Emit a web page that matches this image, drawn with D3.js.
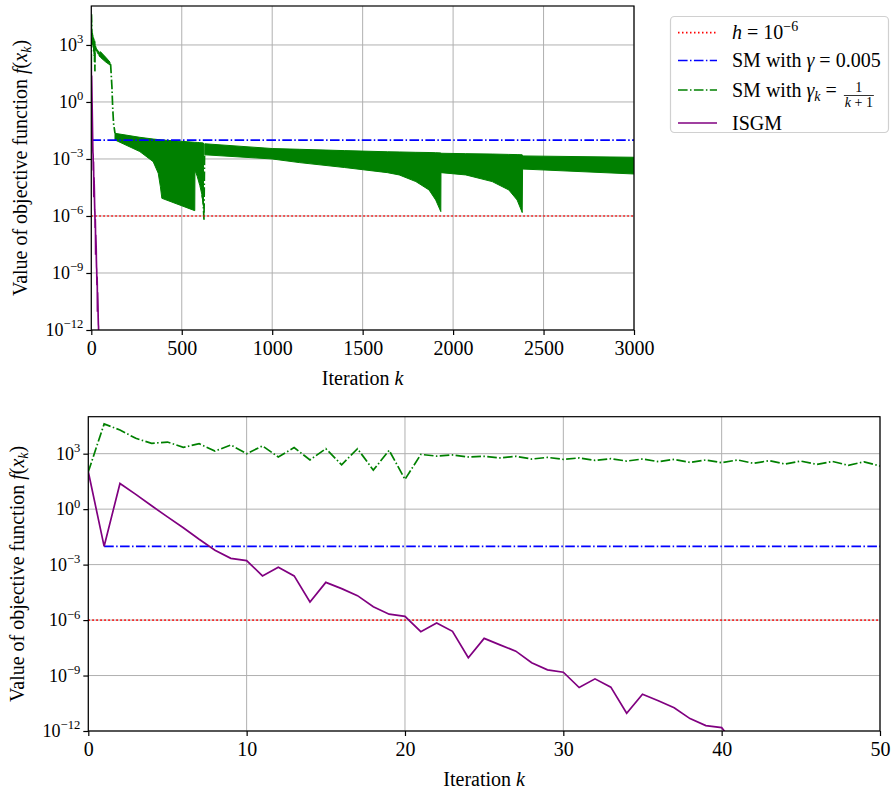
<!DOCTYPE html>
<html>
<head>
<meta charset="utf-8">
<script src="https://cdn.jsdelivr.net/npm/d3@7"></script>
<style>
  body { margin: 0; background: #fff; }
  svg text { font-family: "Liberation Serif", "Times New Roman", serif; fill: #000; }
</style>
</head>
<body>
<svg id="chart" width="896" height="791"></svg>
<script>
// ---- data (log10 of f(x_k)) ----
// SM with gamma_k = 1/(k+1), k = 0..50
const smDiminishingLog = [2.02, 4.61, 4.28, 3.83, 3.56, 3.63, 3.34, 3.54, 3.14, 3.47, 3.0,
  3.42, 2.82, 3.33, 2.66, 3.27, 2.40, 3.27, 2.11, 3.18, 1.61,
  2.96, 2.87, 2.93, 2.82, 2.86, 2.77, 2.86, 2.71, 2.80, 2.69,
  2.77, 2.64, 2.73, 2.60, 2.71, 2.57, 2.69, 2.53, 2.66, 2.51,
  2.66, 2.48, 2.62, 2.44, 2.60, 2.42, 2.58, 2.37, 2.56, 2.33];
// ISGM, k = 0..41
const isgmLog = [2.02, -2.01, 1.39, 0.80, 0.18, -0.42, -1.01, -1.63, -2.22, -2.66, -2.78,
  -3.61, -3.14, -3.61, -5.02, -3.96, -4.30, -4.68, -5.28, -5.68, -5.80,
  -6.63, -6.16, -6.61, -8.04, -6.99, -7.34, -7.68, -8.31, -8.69, -8.82,
  -9.65, -9.18, -9.63, -11.04, -10.01, -10.36, -10.74, -11.33, -11.71, -11.82, -12.9];
// SM with constant step: flat level from k = 1
const smConstLog = -2.01;
const thresholdLog = -6;

// dense oscillation of SM gamma_k over 3000 iterations: upper / lower envelope
const bandK  = [50, 80, 103, null, 131, 268, 342, 370, 382, 390, 572, 573, 585, 600, 612, 620, null,
  627, 1000, 1150, 1400, 1637, 1702, 1794, 1867, 1904, 1932, 1933, 2070, 2216, 2308, 2354, 2382, 2384, 3000];
const bandHi = [2.65, 2.35, 2.1, null, -1.65, -1.86, -1.95, -1.98, -1.99, -2.0, -2.12, -2.12, -2.13, -2.14, -2.15, -2.16, null,
  -2.2, -2.45, -2.49, -2.56, -2.62, -2.63, -2.65, -2.66, -2.67, -2.68, -2.70, -2.72, -2.74, -2.76, -2.77, -2.78, -2.84, -2.91];
const bandLo = [2.35, 2.1, 1.95, null, -2.0, -2.61, -3.14, -3.75, -4.46, -5.07, -5.72, -3.6, -3.9, -4.4, -4.9, -5.5, null,
  -2.78, -3.0, -3.19, -3.45, -3.72, -3.84, -4.19, -4.63, -5.16, -5.77, -3.72, -3.84, -4.19, -4.63, -5.16, -5.82, -3.53, -3.79];
// dash-dot transitions between the dense parts
const dropK = [103, 107, 114, 118, 123, 131];
const dropLog = [2.0, 1.95, 0.8, -0.25, -1.12, -1.65];
const tailK = [612, 618, 623, 626];
const tailLog = [-4.9, -5.16, -6.2, -2.78];

const yTickVals = [1e-12, 1e-9, 1e-6, 1e-3, 1, 1e3];
const yTickExp = ['\u221212', '\u22129', '\u22126', '\u22123', '0', '3'];
const topXTicks = [0, 500, 1000, 1500, 2000, 2500, 3000];
const botXTicks = [0, 10, 20, 30, 40, 50];

const colors = { h: '#ff0000', sm: '#0000ff', smk: '#008000', isgm: '#800080' };
const dashDot = '9.6,2.4,1.5,2.4';
const dotted = '1.5,2.5';
const lw = 1.7;

const svg = d3.select('#chart');

function rich(g, x, y, parts, size, anchor) {
  const t = g.append('text').attr('x', x).attr('y', y)
    .attr('font-size', size).attr('text-anchor', anchor || 'start');
  let shift = 0;
  parts.forEach(p => {
    const ts = t.append('tspan').text(p.t);
    const target = p.sup ? -size * 0.42 : p.sub ? size * 0.22 : 0;
    if (target !== shift) { ts.attr('dy', target - shift); shift = target; }
    if (p.sup || p.sub) ts.attr('font-size', size * 0.7);
    if (p.it) ts.attr('font-style', 'italic');
  });
  return t;
}

function panel(cfg) {
  const x = d3.scaleLinear().domain([0, cfg.xMax]).range([cfg.left, cfg.right]);
  const y = d3.scaleLog().domain([1e-12, cfg.yMax]).range([cfg.bottom, cfg.top]);
  const g = svg.append('g');

  // grid
  g.append('g').selectAll('line').data(cfg.xTicks).join('line')
    .attr('x1', d => x(d)).attr('x2', d => x(d))
    .attr('y1', cfg.top).attr('y2', cfg.bottom)
    .attr('stroke', '#b0b0b0').attr('stroke-width', 1);
  g.append('g').selectAll('line').data(yTickVals).join('line')
    .attr('x1', cfg.left).attr('x2', cfg.right)
    .attr('y1', d => y(d)).attr('y2', d => y(d))
    .attr('stroke', '#b0b0b0').attr('stroke-width', 1);

  const clipId = 'clip' + cfg.id;
  svg.append('clipPath').attr('id', clipId).append('rect')
    .attr('x', cfg.left).attr('y', cfg.top)
    .attr('width', cfg.right - cfg.left).attr('height', cfg.bottom - cfg.top);
  const plot = g.append('g').attr('clip-path', `url(#${clipId})`);

  const line = d3.line().x(d => x(d[0])).y(d => y(Math.pow(10, d[1])));

  // SM with gamma_k
  if (cfg.band) {
    const bandData = bandK.map((k, i) => ({ k, hi: bandHi[i], lo: bandLo[i] }));
    const area = d3.area().defined(d => d.k != null)
      .x(d => x(d.k))
      .y0(d => y(Math.pow(10, d.lo)))
      .y1(d => y(Math.pow(10, d.hi)));
    plot.append('path').attr('d', area(bandData))
      .attr('fill', colors.smk).attr('stroke', colors.smk).attr('stroke-width', 1);
    plot.append('path').attr('d', line(dropK.map((k, i) => [k, dropLog[i]])))
      .attr('fill', 'none').attr('stroke', colors.smk).attr('stroke-width', lw)
      .attr('stroke-dasharray', dashDot);
    plot.append('path').attr('d', line(tailK.map((k, i) => [k, tailLog[i]])))
      .attr('fill', 'none').attr('stroke', colors.smk).attr('stroke-width', lw)
      .attr('stroke-dasharray', dashDot);
  }
  plot.append('path').attr('d', line(smDiminishingLog.map((v, k) => [k, v])))
    .attr('fill', 'none').attr('stroke', colors.smk).attr('stroke-width', lw)
    .attr('stroke-dasharray', dashDot);

  // threshold h
  plot.append('path').attr('d', line([[0, thresholdLog], [cfg.xMax, thresholdLog]]))
    .attr('fill', 'none').attr('stroke', colors.h).attr('stroke-width', lw)
    .attr('stroke-dasharray', dotted);
  // SM constant step
  plot.append('path').attr('d', line([[1, smConstLog], [cfg.xMax, smConstLog]]))
    .attr('fill', 'none').attr('stroke', colors.sm).attr('stroke-width', lw)
    .attr('stroke-dasharray', dashDot);
  // ISGM
  plot.append('path').attr('d', line(isgmLog.map((v, k) => [k, v])))
    .attr('fill', 'none').attr('stroke', colors.isgm).attr('stroke-width', lw);

  // axes
  const xAxis = g.append('g').attr('transform', `translate(0,${cfg.bottom})`)
    .call(d3.axisBottom(x).tickValues(cfg.xTicks).tickSize(5).tickPadding(5).tickFormat(d3.format('d')));
  xAxis.select('.domain').remove();
  xAxis.selectAll('line').attr('stroke', '#000').attr('stroke-width', 1.2);
  xAxis.selectAll('text').attr('font-size', 20).attr('font-family', null).attr('dy', '0.75em');
  const yAxis = g.append('g').attr('transform', `translate(${cfg.left},0)`)
    .call(d3.axisLeft(y).tickValues(yTickVals).tickSize(5).tickFormat(''));
  yAxis.select('.domain').remove();
  yAxis.selectAll('line').attr('stroke', '#000').attr('stroke-width', 1.2);
  yTickVals.forEach((v, i) => {
    rich(g, cfg.left - 8, y(v) + 6, [{ t: '10' }, { t: yTickExp[i], sup: true }], 18, 'end');
  });

  g.append('rect').attr('x', cfg.left).attr('y', cfg.top)
    .attr('width', cfg.right - cfg.left).attr('height', cfg.bottom - cfg.top)
    .attr('fill', 'none').attr('stroke', '#000').attr('stroke-width', 1.2);

  // labels
  rich(g, (cfg.left + cfg.right) / 2, cfg.bottom + 55,
    [{ t: 'Iteration ' }, { t: 'k', it: true }], 20, 'middle');
  const yl = g.append('g')
    .attr('transform', `translate(${cfg.ylabelX},${(cfg.top + cfg.bottom) / 2}) rotate(-90)`);
  rich(yl, 0, 0, [{ t: 'Value of objective function ' }, { t: 'f', it: true }, { t: '(' },
    { t: 'x', it: true }, { t: 'k', it: true, sub: true }, { t: ')' }], 20, 'middle');
}

panel({ id: 'top', left: 91.3, right: 634, top: 6, bottom: 330, xMax: 3000,
  yMax: Math.pow(10, 5.05), xTicks: topXTicks, band: true, ylabelX: 27 });
panel({ id: 'bot', left: 88.3, right: 880, top: 416.7, bottom: 731, xMax: 50,
  yMax: 1e5, xTicks: botXTicks, band: false, ylabelX: 24 });

// legend
const lg = svg.append('g');
lg.append('rect').attr('x', 670.5).attr('y', 16.5).attr('width', 218).attr('height', 116)
  .attr('rx', 4).attr('fill', '#fff').attr('fill-opacity', 0.8)
  .attr('stroke', '#d0d0d0').attr('stroke-width', 1.2);
const legendRows = [
  { y: 32.7, color: colors.h, dash: dotted },
  { y: 60.5, color: colors.sm, dash: dashDot },
  { y: 90, color: colors.smk, dash: dashDot },
  { y: 123, color: colors.isgm, dash: null }
];
legendRows.forEach(r => {
  lg.append('line').attr('x1', 678).attr('x2', 717).attr('y1', r.y).attr('y2', r.y)
    .attr('stroke', r.color).attr('stroke-width', lw)
    .attr('stroke-dasharray', r.dash);
});
rich(lg, 732, 39, [{ t: 'h', it: true }, { t: ' = 10' }, { t: '\u22126', sup: true }], 20);
rich(lg, 732, 67, [{ t: 'SM with ' }, { t: '\u03b3', it: true }, { t: ' = 0.005' }], 20);
const t3 = rich(lg, 732, 97, [{ t: 'SM with ' }, { t: '\u03b3', it: true }, { t: 'k', it: true, sub: true },
  { t: ' =' }], 20);
const fx = t3.node().getComputedTextLength() + 732 + 22;
lg.append('text').attr('x', fx).attr('y', 92).attr('font-size', 14).attr('text-anchor', 'middle').text('1');
lg.append('line').attr('x1', fx - 15).attr('x2', fx + 15).attr('y1', 95.5).attr('y2', 95.5)
  .attr('stroke', '#000').attr('stroke-width', 0.8);
rich(lg, fx, 107, [{ t: 'k', it: true }, { t: ' + 1' }], 14, 'middle');
rich(lg, 732, 130, [{ t: 'ISGM' }], 20);
</script>
</body>
</html>
